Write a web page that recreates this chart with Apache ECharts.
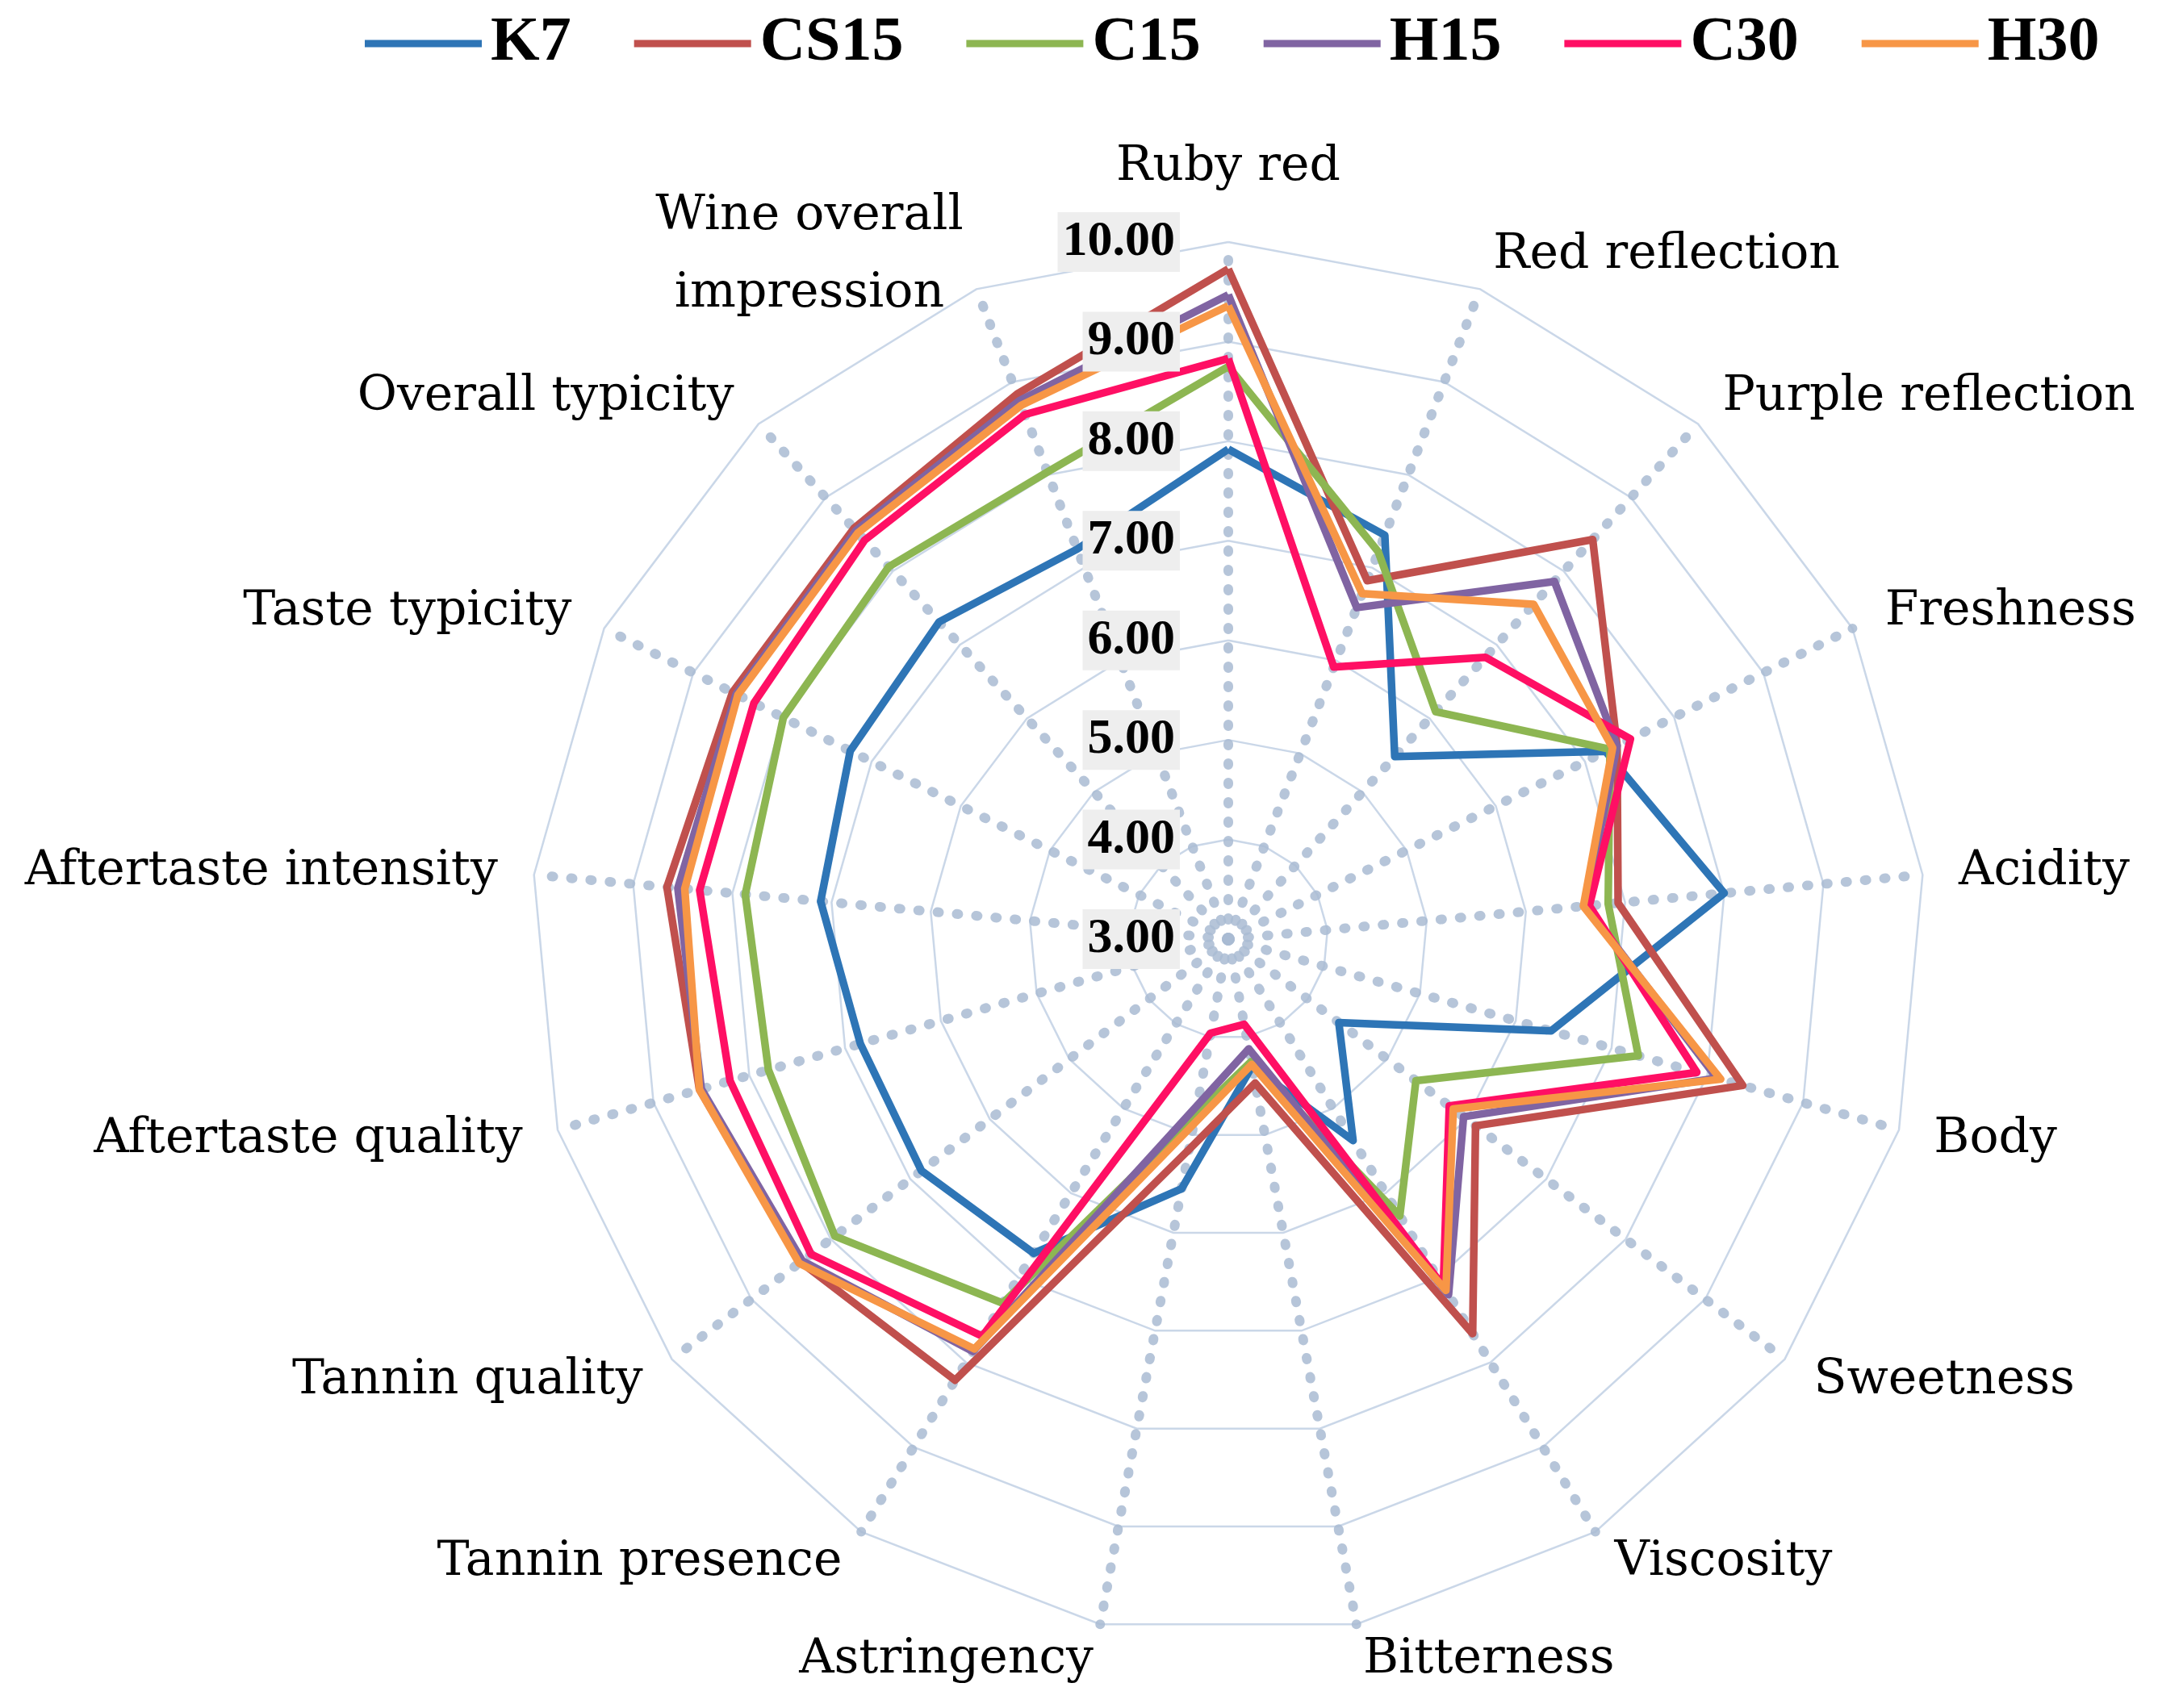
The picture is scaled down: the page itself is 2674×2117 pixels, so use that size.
<!DOCTYPE html>
<html><head><meta charset="utf-8">
<script src="https://cdn.jsdelivr.net/npm/echarts@6/dist/echarts.min.js"></script>
<style>html,body{margin:0;padding:0;background:#fff}#c{width:2674px;height:2117px}</style>
</head><body><div id="c"></div>
<script>
// categories in clockwise order starting at the top
const categories = ['Ruby red','Red reflection','Purple reflection','Freshness','Acidity','Body','Sweetness','Viscosity','Bitterness','Astringency','Tannin presence','Tannin quality','Aftertaste quality','Aftertaste intensity','Taste typicity','Overall typicity','Wine overall\nimpression'];
const seriesNames = ['K7','CS15','C15','H15','C30','H30'];
const seriesColors = ['#2E75B6','#C0504D','#8DB652','#8064A2','#FF0F64','#F79646'];
const K7   = [7.92, 7.35, 5.48, 7.23, 8.00, 6.37, 4.39, 5.38, 4.30, 5.55, 6.71, 6.86, 6.84, 7.11, 7.24, 7.31, 7.20];
const CS15 = [9.73, 6.86, 8.43, 7.36, 6.93, 8.37, 6.11, 7.66, 4.47, 5.15, 8.21, 8.38, 8.52, 8.66, 8.56, 8.58, 8.87];
const C15  = [8.75, 7.17, 6.09, 7.28, 6.83, 7.28, 5.36, 6.27, 4.25, 4.80, 7.30, 7.95, 7.80, 7.87, 7.99, 8.06, 8.03];
const H15  = [9.47, 6.57, 7.86, 7.36, 6.60, 8.10, 5.96, 7.20, 4.12, 4.70, 7.87, 8.36, 8.50, 8.55, 8.52, 8.55, 8.80];
const C30  = [8.83, 5.93, 6.83, 7.51, 6.64, 7.89, 5.78, 7.10, 3.87, 3.96, 7.69, 8.25, 8.20, 8.33, 8.32, 8.42, 8.65];
const H30  = [9.36, 6.72, 7.55, 7.31, 6.58, 8.14, 5.83, 7.15, 4.28, 4.89, 7.84, 8.40, 8.52, 8.48, 8.50, 8.52, 8.75];
const axisMin = 3, axisMax = 10, axisStep = 1;

const allValues = [K7, CS15, C15, H15, C30, H30];
// ECharts radar places indicators counter-clockwise; reorder to draw clockwise
const order = [0];
for (let k = categories.length - 1; k >= 1; k--) order.push(k);
const reorder = arr => order.map(k => arr[k]);

const nameFont = {color: '#000', fontFamily: 'DejaVu Serif', fontSize: 60, lineHeight: 96};
const CX = 1522, CY = 1164, R = 864;
const chart = echarts.init(document.getElementById('c'), null, {renderer: 'canvas'});
chart.setOption({
  backgroundColor: '#ffffff',
  animation: false,
  legend: {
    data: seriesNames,
    top: 10, left: 447,
    icon: 'rect', itemWidth: 145, itemHeight: 9, itemGap: 78,
    textStyle: {fontFamily: 'Liberation Serif', fontWeight: 'bold', fontSize: 78, color: '#000', padding: [0, 0, 0, 6]}
  },
  radar: {
    center: [CX, CY], radius: R, startAngle: 90, splitNumber: 7, shape: 'polygon',
    axisNameGap: 45, nameGap: 45,
    indicator: order.map(k => ({name: categories[k], min: axisMin, max: axisMax})),
    axisName: Object.assign({}, nameFont, {
      formatter: n => n.indexOf('\n') >= 0 ? n.split('\n').map(s => '{c|' + s + '}').join('\n') : n,
      rich: {c: Object.assign({align: 'center'}, nameFont)}
    }),
    axisLine: {show: true, lineStyle: {color: '#a9bbd2', width: 12, type: [2, 22], opacity: 0.85}},
    splitLine: {show: true, lineStyle: {color: '#cad7e8', width: 2.5}},
    splitArea: {show: false},
    axisTick: {show: false},
    axisLabel: {show: false}
  },
  polar: {center: [CX, CY], radius: R},
  angleAxis: {type: 'value', startAngle: 90, min: 0, max: 360, show: false},
  radiusAxis: {
    type: 'value', min: axisMin, max: axisMax, interval: axisStep, z: 10,
    axisLine: {show: false}, axisTick: {show: false}, splitLine: {show: false},
    axisLabel: {
      show: true, formatter: v => v.toFixed(2), margin: 60,
      fontFamily: 'Liberation Serif', fontWeight: 'bold', fontSize: 62, color: '#000',
      backgroundColor: '#eeeeee', padding: [8, 6, 4, 6]
    }
  },
  series: seriesNames.map((n, i) => ({
    name: n, type: 'radar', symbol: 'none', z: 2 + i,
    lineStyle: {width: 9.5, color: seriesColors[i]},
    itemStyle: {color: seriesColors[i]},
    data: [{name: n, value: reorder(allValues[i])}]
  }))
});
</script></body></html>
